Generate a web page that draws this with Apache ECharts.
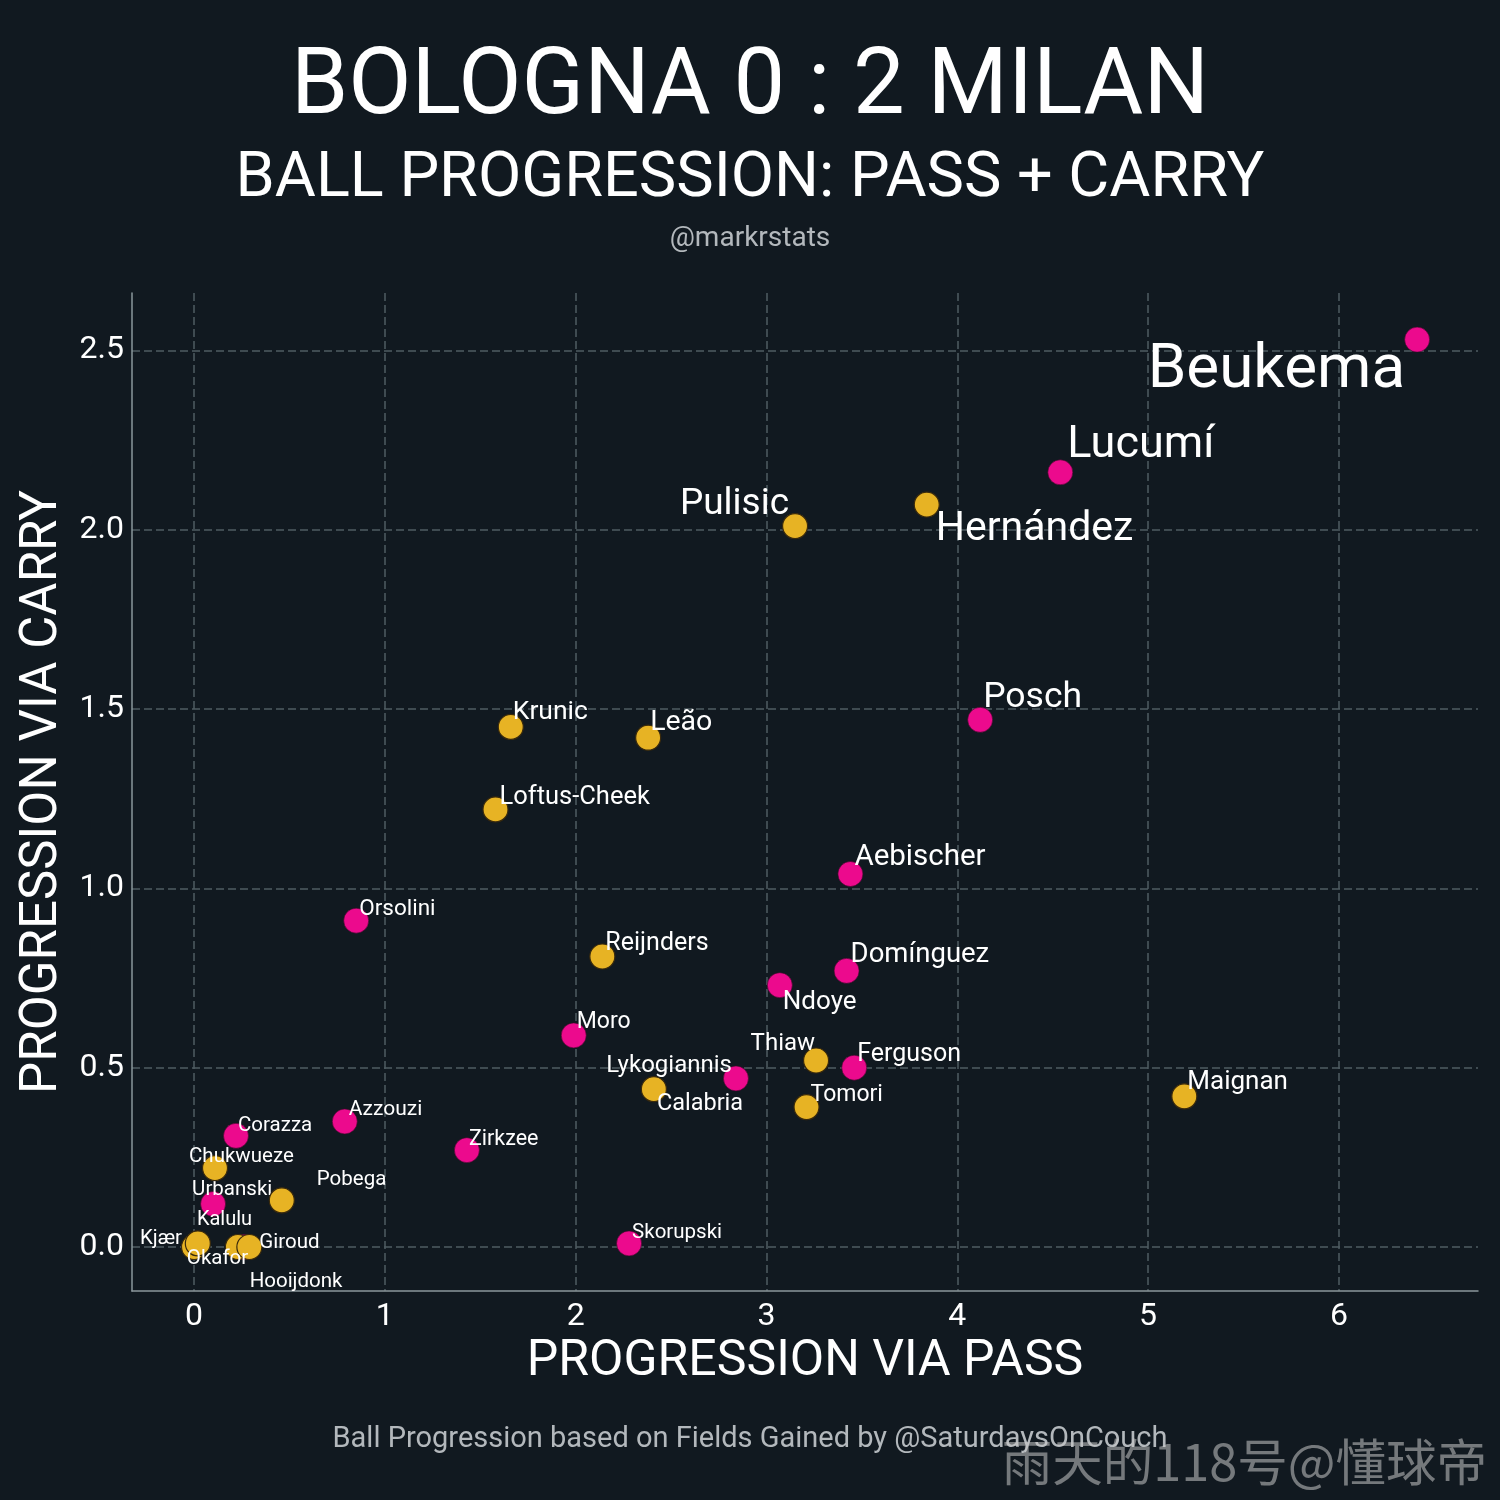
<!DOCTYPE html>
<html>
<head>
<meta charset="utf-8">
<script src="https://cdn.jsdelivr.net/npm/echarts@6/dist/echarts.min.js"></script>
<style>
html,body{margin:0;padding:0;background:#111920;}
#chart{width:1500px;height:1500px;}
</style>
</head>
<body>
<div id="chart"></div>
<script>
// ---- data ----
const players = ['Beukema','Lucumí','Hernández','Pulisic','Posch','Krunic','Leão','Loftus-Cheek','Aebischer','Orsolini','Reijnders','Domínguez','Ndoye','Moro','Thiaw','Ferguson','Lykogiannis','Calabria','Maignan','Tomori','Azzouzi','Corazza','Zirkzee','Chukwueze','Pobega','Urbanski','Skorupski','Kjær','Okafor','Kalulu','Giroud','Hooijdonk'];
const passProg = [6.41,4.54,3.84,3.15,4.12,1.66,2.38,1.58,3.44,0.85,2.14,3.42,3.07,1.99,3.26,3.46,2.84,2.41,5.19,3.21,0.79,0.22,1.43,0.11,0.46,0.10,2.28,0.00,0.02,0.23,0.29,0.26];
const carryProg = [2.53,2.16,2.07,2.01,1.47,1.45,1.42,1.22,1.04,0.91,0.81,0.77,0.73,0.59,0.52,0.50,0.47,0.44,0.42,0.39,0.35,0.31,0.27,0.22,0.13,0.12,0.01,0.00,0.01,0.00,0.00,0.00];
const team = ['BOL','BOL','MIL','MIL','BOL','MIL','MIL','MIL','BOL','BOL','MIL','BOL','BOL','BOL','MIL','BOL','BOL','MIL','MIL','MIL','BOL','BOL','BOL','MIL','MIL','BOL','BOL','MIL','MIL','MIL','MIL','BOL'];
const xTicks = [0,1,2,3,4,5,6];
const yTicks = [0,0.5,1,1.5,2,2.5];

// ---- label styling (offset from point in px, font size, alignment) ----
const labelStyle = {
  'Beukema':[-12,29,62,'right'], 'Lucumí':[7,-30,45,'left'], 'Hernández':[9,22,41,'left'],
  'Pulisic':[-6,-24,37,'right'], 'Posch':[3,-25,35.5,'left'], 'Krunic':[2,-18,26.5,'left'],
  'Leão':[2,-18,28.5,'left'], 'Loftus-Cheek':[4,-15,25.5,'left'], 'Aebischer':[4,-19.5,29.5,'left'],
  'Orsolini':[3,-14,22.5,'left'], 'Reijnders':[3,-15.5,25,'left'], 'Domínguez':[4,-19,27.5,'left'],
  'Ndoye':[3,14,26,'left'], 'Moro':[3,-16,23,'left'], 'Thiaw':[-1,-19.5,24,'right'],
  'Ferguson':[3,-16,25,'left'], 'Lykogiannis':[-4,-15,24,'right'], 'Calabria':[3,12,23.5,'left'],
  'Maignan':[3,-17,26,'left'], 'Tomori':[4,-15,23,'left'], 'Azzouzi':[4,-14.5,21,'left'],
  'Corazza':[2,-13,20.5,'left'], 'Zirkzee':[2,-14,21.5,'left'], 'Chukwueze':[-26,-14.5,20.5,'left'],
  'Pobega':[35,-23,20.5,'left'], 'Urbanski':[-21,-17,20.5,'left'], 'Skorupski':[3,-13.5,20.5,'left'],
  'Kjær':[-12,-11,20.5,'right'], 'Okafor':[-11,12,20.5,'left'], 'Kalulu':[-41,-30,20,'left'],
  'Giroud':[10,-7,20.5,'left'], 'Hooijdonk':[6,32,20.5,'left']
};
const LABEL_DY = 3;

const PINK = '#ec0a8d';
const YELLOW = '#e7b324';
const FONT = 'Roboto';

function buildData(t){
  const out = [];
  players.forEach((n,i)=>{
    if(team[i]!==t) return;
    const s = labelStyle[n];
    out.push({
      name:n,
      value:[passProg[i], carryProg[i]],
      label:{show:true, formatter:n, position:'inside', align:s[3], verticalAlign:'middle',
             offset:[s[0], s[1]+LABEL_DY], fontSize:s[2], color:'#ffffff', fontFamily:FONT}
    });
  });
  return out;
}

const chart = echarts.init(document.getElementById('chart'), null, {renderer:'canvas'});
const gridColor = '#4f5c62';
chart.setOption({
  backgroundColor:'#111920',
  animation:false,
  grid:{left:132, top:293, right:22, bottom:209, containLabel:false},
  xAxis:{
    type:'value', min:-0.325, max:6.729,
    name:'PROGRESSION VIA PASS', nameLocation:'middle', nameGap:45,
    nameTextStyle:{color:'#ffffff', fontSize:50, fontFamily:FONT},
    axisLine:{show:true, onZero:false, lineStyle:{color:'#8a979b', width:1.5}},
    axisTick:{show:false, customValues:xTicks},
    axisLabel:{customValues:xTicks, color:'#ffffff', fontSize:32, fontFamily:FONT, margin:10},
    splitLine:{show:true, lineStyle:{color:gridColor, type:[8,4], width:1.5}}
  },
  yAxis:{
    type:'value', min:-0.1227, max:2.66,
    name:'PROGRESSION VIA CARRY', nameLocation:'middle', nameGap:59, nameRotate:90,
    nameTextStyle:{color:'#ffffff', fontSize:51, fontFamily:FONT},
    axisLine:{show:true, onZero:false, lineStyle:{color:'#8a979b', width:1.5}},
    axisTick:{show:false, customValues:yTicks},
    axisLabel:{customValues:yTicks, color:'#ffffff', fontSize:32, fontFamily:FONT, margin:8,
               padding:[6,0,0,0], formatter:v=>v.toFixed(1)},
    splitLine:{show:true, lineStyle:{color:gridColor, type:[8,4], width:1.5}}
  },
  series:[
    {type:'scatter', name:'Bologna', symbolSize:25, z:2,
     itemStyle:{color:PINK, borderColor:'rgba(60,10,40,0.6)', borderWidth:1, opacity:1},
     data:buildData('BOL')},
    {type:'scatter', name:'Milan', symbolSize:25, z:3,
     itemStyle:{color:YELLOW, borderColor:'#3a2a0c', borderWidth:1.2, opacity:1},
     data:buildData('MIL')}
  ],
  graphic:[
    {type:'text', x:750, y:90, style:{text:'BOLOGNA 0 : 2 MILAN', fill:'#ffffff', font:'92px Roboto', textAlign:'center', textVerticalAlign:'middle'}},
    {type:'text', x:750, y:180, style:{text:'BALL PROGRESSION: PASS + CARRY', fill:'#ffffff', font:'63px Roboto', textAlign:'center', textVerticalAlign:'middle'}},
    {type:'text', x:750, y:239, style:{text:'@markrstats', fill:'#b3b8bc', font:'28px Roboto', textAlign:'center', textVerticalAlign:'middle'}},
    {type:'text', x:750, y:1440, style:{text:'Ball Progression based on Fields Gained by @SaturdaysOnCouch', fill:'#b3b8bc', font:'29px Roboto', textAlign:'center', textVerticalAlign:'middle'}},
    {type:'text', x:1487, y:1462, z:100, style:{text:'雨天的118号@懂球帝', fill:'rgba(200,200,200,0.55)', font:'50.5px "Noto Sans CJK SC"', textAlign:'right', textVerticalAlign:'middle'}}
  ]
});
</script>
</body>
</html>
